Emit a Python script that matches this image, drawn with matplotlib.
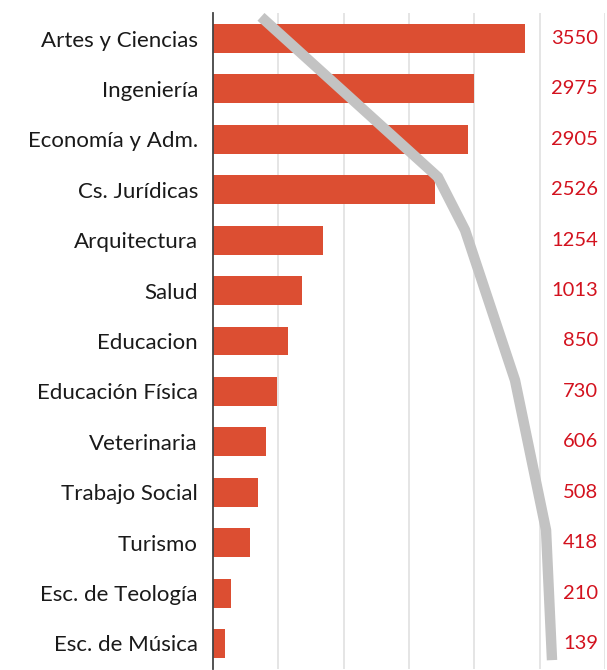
import matplotlib
matplotlib.use("Agg")
import matplotlib.pyplot as plt
import numpy as np

categories = ["Artes y Ciencias", "Ingeniería", "Economía y Adm.", "Cs. Jurídicas",
              "Arquitectura", "Salud", "Educacion", "Educación Física", "Veterinaria",
              "Trabajo Social", "Turismo", "Esc. de Teología", "Esc. de Música"]
values = [3550, 2975, 2905, 2526, 1254, 1013, 850, 730, 606, 508, 418, 210, 139]

# grey trend line (in bar-value units vs category position)
line_pos = [-0.43, 2.75, 3.80, 6.78, 9.75, 12.33]
line_val = [546, 2560, 2868, 3437, 3790, 3858]

plt.rcParams['font.family'] = ['Lato', 'DejaVu Sans']

W, H = 607, 670
fig = plt.figure(figsize=(W / 100, H / 100), dpi=100)
ax = fig.add_axes([213 / W, 1.3 / H, 392 / W, 655.4 / H])

y = np.arange(len(categories))
ax.barh(y, values, height=0.575, color="#dc4e32", zorder=2)
ax.set_ylim(len(categories) - 0.5, -0.5)
ax.set_xlim(0, 4461)

for gx in np.linspace(0, 4461, 7)[1:]:
    ax.axvline(gx, color="#e3e3e3", lw=1.3, zorder=1)

ax.plot(line_val, line_pos, color="#c3c3c3", lw=7.5, solid_capstyle="butt",
        solid_joinstyle="miter", zorder=3)

for s in ["top", "right", "bottom"]:
    ax.spines[s].set_visible(False)
ax.spines["left"].set_color("#444444")
ax.spines["left"].set_linewidth(1.3)
ax.set_xticks([])
ax.set_yticks(y)
ax.set_yticklabels(categories, fontsize=16, color="#1a1a1a")
ax.tick_params(axis="y", length=0, pad=10.8)

for yi, v in zip(y, values):
    ax.text(1.0 - 7 / 392, yi, f"{v}", transform=ax.get_yaxis_transform(),
            ha="right", va="center", fontsize=14.5, color="#d3121e")

fig.savefig("out.png", dpi=100)
